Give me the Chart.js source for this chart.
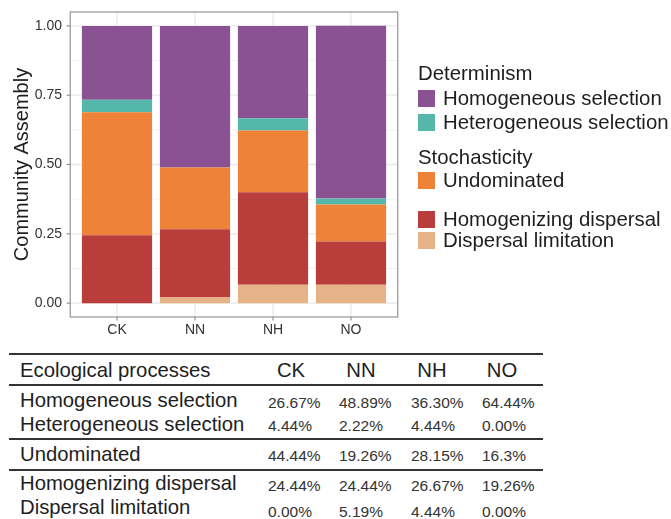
<!DOCTYPE html>
<html>
<head>
<meta charset="utf-8">
<script src="https://cdn.jsdelivr.net/npm/chart.js@4.4.1/dist/chart.umd.min.js"></script>
<style>
  html, body { margin: 0; padding: 0; background: #ffffff; }
  body {
    width: 671px; height: 519px; position: relative; overflow: hidden;
    font-family: "Liberation Sans", Arial, sans-serif; color: #1e1e1e;
  }
  #plot { position: absolute; left: 0; top: 0; width: 671px; height: 345px; }
  .t { position: absolute; white-space: nowrap; line-height: 1; }
  .key { position: absolute; width: 17px; height: 17px; }
  .rule { position: absolute; height: 2px; background: #333333; }
</style>
</head>
<body>
<div id="plot"><canvas id="chart"></canvas></div>
<div id="legend"></div>
<div id="table"></div>
<script>
// Treatments along the x axis
const categories = ['CK', 'NN', 'NH', 'NO'];

// Relative contribution of each assembly process (stacked, bottom to top)
const dispersalLimitation    = [0.0000, 0.0222, 0.0667, 0.0667];
const homogenizingDispersal  = [0.2444, 0.2444, 0.3333, 0.1556];
const undominated            = [0.4444, 0.2222, 0.2222, 0.1333];
const heterogeneousSelection = [0.0444, 0.0000, 0.0444, 0.0222];
const homogeneousSelection   = [0.2667, 0.5111, 0.3333, 0.6222];

// Axis ticks
const yTicks = [0, 0.25, 0.5, 0.75, 1];
const yMinorTicks = [0.125, 0.375, 0.625, 0.875];

// Summary table
const tableHeader = ['Ecological processes', 'CK', 'NN', 'NH', 'NO'];
const rowHomogeneousSelection   = ['Homogeneous selection',   '26.67%', '48.89%', '36.30%', '64.44%'];
const rowHeterogeneousSelection = ['Heterogeneous selection', '4.44%',  '2.22%',  '4.44%',  '0.00%'];
const rowUndominated            = ['Undominated',             '44.44%', '19.26%', '28.15%', '16.3%'];
const rowHomogenizingDispersal  = ['Homogenizing dispersal',  '24.44%', '24.44%', '26.67%', '19.26%'];
const rowDispersalLimitation    = ['Dispersal limitation',    '0.00%',  '5.19%',  '4.44%',  '0.00%'];

const COLORS = {
  homSel: '#8B5293',
  hetSel: '#55B6AA',
  undom:  '#EF8239',
  homDis: '#B83D3B',
  disLim: '#E6B388'
};

const FONT = '"Liberation Sans", Arial, sans-serif';
const TEXT = '#333333';

// ggplot-like panel: white background, major/minor grid, grey border, tick marks
const panelPlugin = {
  id: 'panel',
  beforeDatasetsDraw(chart) {
    const { ctx, scales: { x, y } } = chart;
    const L = x.getPixelForValue(-0.6), R = x.getPixelForValue(3.6);
    const T = y.getPixelForValue(1.05), B = y.getPixelForValue(-0.05);
    ctx.save();
    ctx.fillStyle = '#ffffff';
    ctx.fillRect(L, T, R - L, B - T);
    ctx.strokeStyle = '#efefef';
    ctx.lineWidth = 0.8;
    yMinorTicks.forEach(v => {
      const py = y.getPixelForValue(v);
      ctx.beginPath(); ctx.moveTo(L, py); ctx.lineTo(R, py); ctx.stroke();
    });
    ctx.strokeStyle = '#e8e8e8';
    ctx.lineWidth = 1.3;
    yTicks.forEach(v => {
      const py = y.getPixelForValue(v);
      ctx.beginPath(); ctx.moveTo(L, py); ctx.lineTo(R, py); ctx.stroke();
    });
    categories.forEach((c, i) => {
      const px = x.getPixelForValue(i);
      ctx.beginPath(); ctx.moveTo(px, T); ctx.lineTo(px, B); ctx.stroke();
    });
    ctx.restore();
  },
  afterDatasetsDraw(chart) {
    const { ctx, scales: { x, y } } = chart;
    const L = x.getPixelForValue(-0.6), R = x.getPixelForValue(3.6);
    const T = y.getPixelForValue(1.05), B = y.getPixelForValue(-0.05);
    ctx.save();
    ctx.strokeStyle = '#8a8a8a';
    ctx.lineWidth = 1.1;
    ctx.strokeRect(L, T, R - L, B - T);
    yTicks.forEach(v => {
      const py = y.getPixelForValue(v);
      ctx.beginPath(); ctx.moveTo(L - 3.5, py); ctx.lineTo(L, py); ctx.stroke();
    });
    categories.forEach((c, i) => {
      const px = x.getPixelForValue(i);
      ctx.beginPath(); ctx.moveTo(px, B); ctx.lineTo(px, B + 3.5); ctx.stroke();
    });
    ctx.restore();
  }
};

const datasets = [
  { label: 'Dispersal limitation',    data: dispersalLimitation,    backgroundColor: COLORS.disLim },
  { label: 'Homogenizing dispersal',  data: homogenizingDispersal,  backgroundColor: COLORS.homDis },
  { label: 'Undominated',             data: undominated,            backgroundColor: COLORS.undom },
  { label: 'Heterogeneous selection', data: heterogeneousSelection, backgroundColor: COLORS.hetSel },
  { label: 'Homogeneous selection',   data: homogeneousSelection,   backgroundColor: COLORS.homSel }
].map(d => Object.assign(d, { borderWidth: 0, barPercentage: 0.9, categoryPercentage: 1.0 }));

new Chart(document.getElementById('chart'), {
  type: 'bar',
  data: { labels: categories, datasets },
  options: {
    responsive: true,
    maintainAspectRatio: false,
    animation: false,
    events: [],
    layout: { padding: { left: 0, top: 12, right: 281, bottom: 0 } },
    plugins: { legend: { display: false }, tooltip: { enabled: false } },
    scales: {
      x: {
        stacked: true,
        offset: true,
        grid: { display: false, drawTicks: false },
        border: { display: false },
        ticks: { color: TEXT, font: { family: FONT, size: 14 }, padding: 5 },
        afterFit(s) { s.height = 28; s.paddingLeft = 0; s.paddingRight = 0; }
      },
      y: {
        stacked: true,
        min: -0.05,
        max: 1.05,
        grid: { display: false, drawTicks: false },
        border: { display: false },
        afterBuildTicks(s) { s.ticks = yTicks.map(v => ({ value: v })); },
        ticks: {
          color: TEXT,
          font: { family: FONT, size: 14 },
          padding: 16,
          callback: v => Number(v).toFixed(2)
        },
        title: {
          display: true,
          text: 'Community Assembly',
          color: '#1e1e1e',
          font: { family: FONT, size: 20 },
          padding: { top: 10, bottom: 0 }
        },
        afterFit(s) { s.width = 78; s.paddingTop = 0; s.paddingBottom = 0; }
      }
    }
  },
  plugins: [panelPlugin]
});

// Legend, grouped into determinism and stochasticity
function addText(parent, str, left, top, size, color, align) {
  const el = document.createElement('div');
  el.className = 't';
  el.textContent = str;
  el.style.left = left + 'px';
  el.style.top = top + 'px';
  el.style.fontSize = size + 'px';
  if (color) el.style.color = color;
  if (align === 'center') el.style.transform = 'translateX(-50%)';
  parent.appendChild(el);
  return el;
}
const legend = document.getElementById('legend');
const legendEntries = [
  { title: 'Determinism', top: 63 },
  { label: 'Homogeneous selection', color: COLORS.homSel, top: 90 },
  { label: 'Heterogeneous selection', color: COLORS.hetSel, top: 114 },
  { title: 'Stochasticity', top: 147 },
  { label: 'Undominated', color: COLORS.undom, top: 171.5 },
  { label: 'Homogenizing dispersal', color: COLORS.homDis, top: 210.5 },
  { label: 'Dispersal limitation', color: COLORS.disLim, top: 231.5 }
];
legendEntries.forEach(e => {
  if (e.title) {
    addText(legend, e.title, 418, e.top, 20.4, '#1e1e1e');
  } else {
    const k = document.createElement('div');
    k.className = 'key';
    k.style.left = '418px';
    k.style.top = e.top + 'px';
    k.style.background = e.color;
    legend.appendChild(k);
    addText(legend, e.label, 443, e.top - 1.7, 20.4, '#1e1e1e');
  }
});

// Summary table
const table = document.getElementById('table');
[354, 384.5, 439, 469.5].forEach(yy => {
  const r = document.createElement('div');
  r.className = 'rule';
  r.style.left = '9px';
  r.style.width = '534px';
  r.style.top = (yy - 1) + 'px';
  table.appendChild(r);
});
const headerCenters = [291, 361, 432, 502];
const valueLefts = [268, 339, 411, 482];
addText(table, tableHeader[0], 20, 360, 20.3, '#1e1e1e');
tableHeader.slice(1).forEach((h, i) => addText(table, h, headerCenters[i], 360, 20.3, '#1e1e1e', 'center'));
const bodyRows = [
  { row: rowHomogeneousSelection,   labelTop: 390,   valueTop: 394.5 },
  { row: rowHeterogeneousSelection, labelTop: 414,   valueTop: 417.5 },
  { row: rowUndominated,            labelTop: 444,   valueTop: 447.5 },
  { row: rowHomogenizingDispersal,  labelTop: 473,   valueTop: 477.5 },
  { row: rowDispersalLimitation,    labelTop: 497,   valueTop: 503.5 }
];
bodyRows.forEach(b => {
  addText(table, b.row[0], 20, b.labelTop, 20.3, '#1e1e1e');
  b.row.slice(1).forEach((v, i) => addText(table, v, valueLefts[i], b.valueTop, 15.5, '#333333'));
});
</script>
</body>
</html>
